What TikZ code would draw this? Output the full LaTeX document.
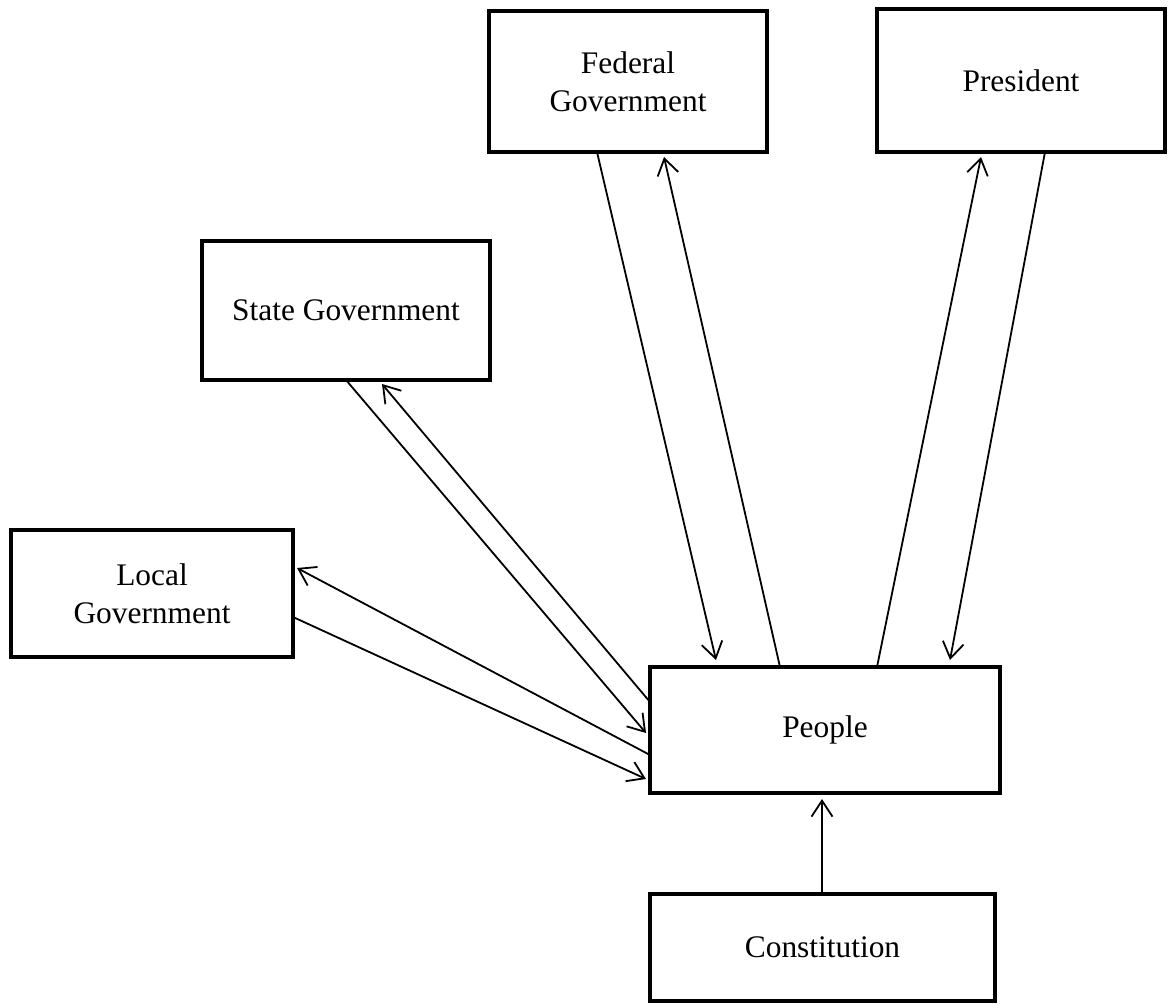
\documentclass[tikz,border=0pt]{standalone}
\usepackage{fontspec}
\setmainfont{Liberation Serif}
\usetikzlibrary{arrows.meta}
\tikzset{
  box/.style={draw=black, line width=4.5pt, fill=white, rectangle, inner sep=0pt, outer sep=0pt,
    align=center, font=\fontsize{31.4}{38}\selectfont},
  conn/.style={line width=1.8pt, -{Straight Barb[length=16pt,width=21pt,line width=1.8pt]}}
}
\begin{document}
\begin{tikzpicture}[x=1pt,y=-1pt]
\useasboundingbox[fill=white] (0,0) rectangle (1168,1006);
\node[box, minimum width=278pt, minimum height=141pt] (fed) at (628,81.5) {Federal\\Government};
\node[box, minimum width=288pt, minimum height=143pt] (pres) at (1021,80.5) {President};
\node[box, minimum width=288pt, minimum height=139pt] (state) at (346,310.5) {State Government};
\node[box, minimum width=282pt, minimum height=127pt] (local) at (152,593.5) {Local\\Government};
\node[box, minimum width=350pt, minimum height=126pt] (people) at (825,730) {People};
\node[box, minimum width=345pt, minimum height=107pt] (const) at (822.5,947.5) {Constitution};

% Federal
\draw[conn] ([xshift=-31pt]fed.south) -- ([xshift=-109pt,yshift=7pt]people.north);
\draw[conn] ([xshift=-45pt]people.north) -- ([xshift=36pt,yshift=-5pt]fed.south);
% President
\draw[conn] ([xshift=52pt]people.north) -- ([xshift=-40pt,yshift=-5pt]pres.south);
\draw[conn] ([xshift=24pt]pres.south) -- ([xshift=125pt,yshift=7pt]people.north);
% State
\draw[conn] (state.south) -- ([xshift=-4pt,yshift=-3pt]people.west);
\draw[conn] ([yshift=28pt]people.west) -- ([xshift=36pt,yshift=-4pt]state.south);
% Local
\draw[conn] ([yshift=-25pt]people.west) -- ([xshift=4pt,yshift=25.5pt]local.east);
\draw[conn] ([yshift=-23.5pt]local.east) -- ([xshift=-4pt,yshift=-49pt]people.west);
% Constitution
\draw[conn] ([xshift=-0.5pt]const.north) -- ([xshift=-3pt,yshift=-6pt]people.south);
\end{tikzpicture}
\end{document}
